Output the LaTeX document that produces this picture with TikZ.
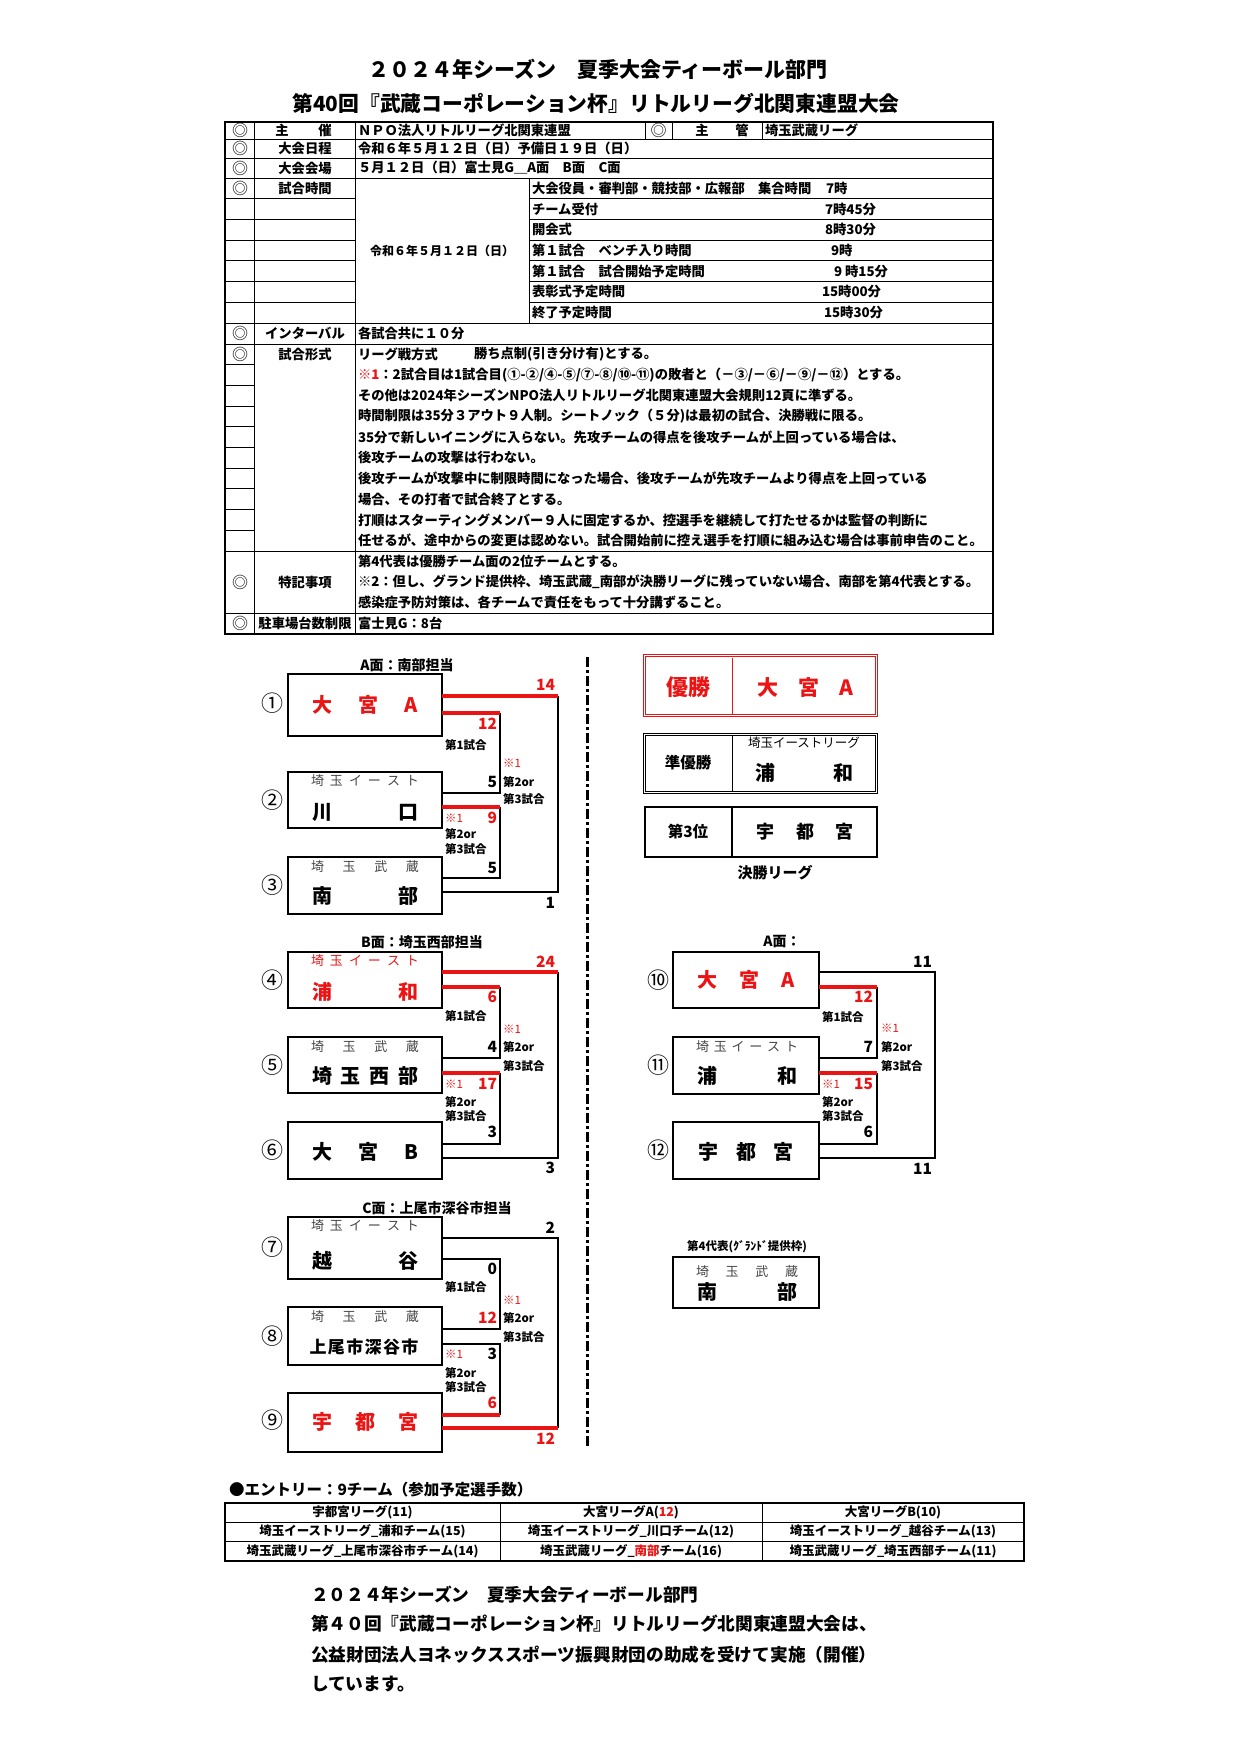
\documentclass[tikz,border=0pt]{standalone}
\usepackage{fontspec}
\setmainfont{Noto Sans CJK JP}
\definecolor{jred}{RGB}{235,20,20}
\definecolor{subg}{RGB}{70,70,70}
\newcommand{\fsz}[1]{\fontsize{#1}{#1}\selectfont}
\newcommand{\sprd}[2]{\makebox[#1][s]{#2}}
\begin{document}
\begin{tikzpicture}[x=1pt,y=-1pt,
  every node/.style={inner sep=0pt,outer sep=0pt},
  cell/.style={font=\fsz{13.3}\bfseries},
  cellw/.style={cell,anchor=west},
  dmk/.style={font=\fsz{16}},
  tgrid/.style={line width=0.9pt,black},
  tframe/.style={line width=1.6pt,black},
  teambox/.style={draw,line width=1.2pt,minimum width=154pt},
  teamboxr/.style={draw,line width=1.2pt,minimum width=146pt},
  win/.style={jred,line width=3.6pt},
  br/.style={line width=1.1pt,black},
  sc/.style={font=\fsz{15.5}\bfseries,anchor=east},
  scr/.style={sc,text=jred},
  lab/.style={font=\fsz{11.5}\bfseries,anchor=west},
  kome/.style={font=\fsz{11.5},text=jred,anchor=west},
  cnum/.style={font=\fsz{22}},
  bigname/.style={font=\fsz{20}\bfseries},
  subt/.style={font=\fsz{13},text=subg},
  head/.style={font=\fsz{14}\bfseries},
  ent/.style={font=\fsz{12.5}\bfseries},
  foot/.style={font=\fsz{17.7}\bfseries,anchor=west}
]
\useasboundingbox (0,0) rectangle (1240,1754);
\fill[white] (0,0) rectangle (1240,1754);

% ---------- titles
\node[font=\fsz{21}\bfseries] (title1) at (598,69) {２０２４年シーズン　夏季大会ティーボール部門};
\node[font=\fsz{20.8}\bfseries] (title2) at (596,103) {第40回『武蔵コーポレーション杯』リトルリーグ北関東連盟大会};

% ---------- table grid
\draw[tgrid] (225,139) -- (993,139);
\draw[tgrid] (225,158) -- (993,158);
\draw[tgrid] (225,178) -- (993,178);
\foreach \yy in {198.7,219.4,240.1,260.8,281.5,302.2} {
  \draw[tgrid] (225,\yy) -- (355,\yy);
  \draw[tgrid] (529,\yy) -- (993,\yy);
}
\draw[tgrid] (225,323) -- (993,323);
\draw[tgrid] (225,344) -- (993,344);
\foreach \yy in {364.7,385.4,406.1,426.8,447.5,468.2,488.9,509.6,530.3}
  \draw[tgrid] (225,\yy) -- (254,\yy);
\draw[tgrid] (225,551) -- (993,551);
\draw[tgrid] (225,613) -- (993,613);
\draw[tgrid] (254,122) -- (254,634);
\draw[tgrid] (355,122) -- (355,634);
\draw[tgrid] (529,178) -- (529,323);
\draw[tgrid] (645,122) -- (645,139);
\draw[tgrid] (672,122) -- (672,139);
\draw[tgrid] (762,122) -- (762,139);
\draw[tframe] (225,122) rectangle (993,634);

% ---------- table texts
\node[dmk] (m1) at (240,130.5) {◎};
\node[cell] (l1a) at (282,130.5) {主};
\node[cell] (l1b) at (325,130.5) {催};
\node[cellw] (v1) at (358,130.5) {ＮＰＯ法人リトルリーグ北関東連盟};
\node[dmk] (m1b) at (658.5,130.5) {◎};
\node[cell] (l1c) at (702,130.5) {主};
\node[cell] (l1d) at (742,130.5) {管};
\node[cellw] (v1b) at (765,130.5) {埼玉武蔵リーグ};

\node[dmk] (m2) at (240,148.5) {◎};
\node[cell] (l2) at (305,148.5) {大会日程};
\node[cellw] (v2) at (358,148.5) {令和６年５月１２日（日）予備日１９日（日）};

\node[dmk] (m3) at (240,168) {◎};
\node[cell] (l3) at (305,168) {大会会場};
\node[cellw] (v3) at (358,168) {５月１２日（日）富士見G＿A面　B面　C面};

\node[dmk] (m4) at (240,188.4) {◎};
\node[cell] (l4) at (305,188.4) {試合時間};
\node[font=\fsz{12}\bfseries] (v4) at (442,250.5) {令和６年５月１２日（日）};

\node[cellw] (s1) at (532,188.4) {大会役員・審判部・競技部・広報部　集合時間};
\node[cellw] (s1t) at (826,188.4) {7時};
\node[cellw] (s2) at (532,209.1) {チーム受付};
\node[cellw] (s2t) at (825,209.1) {7時45分};
\node[cellw] (s3) at (532,229.8) {開会式};
\node[cellw] (s3t) at (825,229.8) {8時30分};
\node[cellw] (s4) at (532,250.5) {第１試合　ベンチ入り時間};
\node[cellw] (s4t) at (831,250.5) {9時};
\node[cellw] (s5) at (532,271.2) {第１試合　試合開始予定時間};
\node[cellw] (s5t) at (834,271.2) {9 時15分};
\node[cellw] (s6) at (532,291.9) {表彰式予定時間};
\node[cellw] (s6t) at (822,291.9) {15時00分};
\node[cellw] (s7) at (532,312.6) {終了予定時間};
\node[cellw] (s7t) at (824,312.6) {15時30分};

\node[dmk] (m5) at (240,333.5) {◎};
\node[cell] (l5) at (305,333.5) {インターバル};
\node[cellw] (v5) at (358,333.5) {各試合共に１０分};

\node[dmk] (m6) at (240,354.4) {◎};
\node[cell] (l6) at (305,354.4) {試合形式};
\node[cellw] (f1) at (358,354.4) {リーグ戦方式};
\node[cellw] (f1b) at (474,354.4) {勝ち点制(引き分け有)とする。};
\node[cellw] (f2) at (358,375.1) {{\color{jred}※1}：2試合目は1試合目(①-②/④-⑤/⑦-⑧/⑩-⑪)の敗者と（－③/－⑥/－⑨/－⑫）とする。};
\node[cellw] (f3) at (358,395.8) {その他は2024年シーズンNPO法人リトルリーグ北関東連盟大会規則12頁に準ずる。};
\node[cellw] (f4) at (358,416.5) {時間制限は35分３アウト９人制。シートノック（５分)は最初の試合、決勝戦に限る。};
\node[cellw] (f5) at (358,437.2) {35分で新しいイニングに入らない。先攻チームの得点を後攻チームが上回っている場合は、};
\node[cellw] (f6) at (358,457.9) {後攻チームの攻撃は行わない。};
\node[cellw] (f7) at (358,478.6) {後攻チームが攻撃中に制限時間になった場合、後攻チームが先攻チームより得点を上回っている};
\node[cellw] (f8) at (358,499.3) {場合、その打者で試合終了とする。};
\node[cellw] (f9) at (358,520) {打順はスターティングメンバー９人に固定するか、控選手を継続して打たせるかは監督の判断に};
\node[cellw] (f10) at (358,540.7) {任せるが、途中からの変更は認めない。試合開始前に控え選手を打順に組み込む場合は事前申告のこと。};

\node[dmk] (m7) at (240,582) {◎};
\node[cell] (l7) at (305,582) {特記事項};
\node[cellw] (k1) at (358,561.3) {第4代表は優勝チーム面の2位チームとする。};
\node[cellw] (k2) at (358,582) {※2：但し、グランド提供枠、埼玉武蔵\_南部が決勝リーグに残っていない場合、南部を第4代表とする。};
\node[cellw] (k3) at (358,602.7) {感染症予防対策は、各チームで責任をもって十分講ずること。};

\node[dmk] (m8) at (240,623.5) {◎};
\node[cell] (l8) at (305,623.5) {駐車場台数制限};
\node[cellw] (v8) at (358,623.5) {富士見G：8台};

% ---------- divider
\coordinate (dv1) at (587,657);
\coordinate (dv2) at (587,1448);
\draw[line width=3pt,dash pattern=on 10pt off 3pt on 3pt off 3pt] (dv1) -- (dv2);

% ---------- bracket A
\node[head] (ha) at (407,665) {A面：南部担当};
\node[teambox,minimum height=62pt] (t1) at (365,705) {};
\node[teambox,minimum height=56pt] (t2) at (365,800) {};
\node[teambox,minimum height=57pt] (t3) at (365,885.5) {};
\node[cnum] (c1) at (272,703) {①};
\node[cnum] (c2) at (272,800) {②};
\node[cnum] (c3) at (272,885) {③};
\node[bigname,text=jred] (n1) at (365,705) {\sprd{106pt}{大\hfil 宮\hfil A}};
\node[subt] (u2) at (365,781) {\sprd{108pt}{埼\hfil 玉\hfil イ\hfil ー\hfil ス\hfil ト}};
\node[bigname] (n2) at (365,812) {\sprd{106pt}{川\hfil 口}};
\node[subt] (u3) at (365,867) {\sprd{108pt}{埼\hfil 玉\hfil 武\hfil 蔵}};
\node[bigname] (n3) at (365,896) {\sprd{106pt}{南\hfil 部}};

\coordinate (a1) at (558,696);
\coordinate (a2) at (500,713);
\coordinate (a3) at (500,793);
\coordinate (a4) at (500,807);
\coordinate (a5) at (500,878);
\coordinate (a6) at (558,892);
\draw[br] (a1) -- (a6) -- (t3.east|-a6);
\draw[br] (a2) -- (a3) -- (t2.east|-a3);
\draw[br] (a4) -- (a5) -- (t3.east|-a5);
\draw[win] (t1.east|-a1) -- (a1);
\draw[win] (t1.east|-a2) -- (a2);
\draw[win] (t2.east|-a4) -- (a4);

\node[scr] (sa1) at (555,685) {14};
\node[scr] (sa2) at (497,724) {12};
\node[lab] (ga1) at (445,745) {第1試合};
\node[sc] (sa3) at (497,782) {5};
\node[kome] (ka1) at (503,763) {※1};
\node[lab] (ga2) at (503,782) {第2or};
\node[lab] (ga3) at (503,799) {第3試合};
\node[kome] (ka2) at (445,818) {※1};
\node[scr] (sa4) at (497,818) {9};
\node[lab] (ga4) at (445,834) {第2or};
\node[lab] (ga5) at (445,849) {第3試合};
\node[sc] (sa5) at (497,868) {5};
\node[sc] (sa6) at (555,903) {1};

% ---------- bracket B
\node[head] (hb) at (422,942) {B面：埼玉西部担当};
\node[teambox,minimum height=56pt] (t4) at (365,980) {};
\node[teambox,minimum height=56pt] (t5) at (365,1065) {};
\node[teambox,minimum height=57pt] (t6) at (365,1150.5) {};
\node[cnum] (c4) at (272,980) {④};
\node[cnum] (c5) at (272,1065) {⑤};
\node[cnum] (c6) at (272,1150) {⑥};
\node[subt,text=jred] (u4) at (365,961) {\sprd{108pt}{埼\hfil 玉\hfil イ\hfil ー\hfil ス\hfil ト}};
\node[bigname,text=jred] (n4) at (365,992) {\sprd{106pt}{浦\hfil 和}};
\node[subt] (u5) at (365,1047) {\sprd{108pt}{埼\hfil 玉\hfil 武\hfil 蔵}};
\node[bigname] (n5) at (365,1076) {\sprd{106pt}{埼\hfil 玉\hfil 西\hfil 部}};
\node[bigname] (n6) at (365,1152) {\sprd{106pt}{大\hfil 宮\hfil B}};

\coordinate (b1) at (558,972);
\coordinate (b2) at (500,987);
\coordinate (b3) at (500,1058);
\coordinate (b4) at (500,1073);
\coordinate (b5) at (500,1144);
\coordinate (b6) at (558,1158);
\draw[br] (b1) -- (b6) -- (t6.east|-b6);
\draw[br] (b2) -- (b3) -- (t5.east|-b3);
\draw[br] (b4) -- (b5) -- (t6.east|-b5);
\draw[win] (t4.east|-b1) -- (b1);
\draw[win] (t4.east|-b2) -- (b2);
\draw[win] (t5.east|-b4) -- (b4);

\node[scr] (sb1) at (555,962) {24};
\node[scr] (sb2) at (497,997) {6};
\node[lab] (gb1) at (445,1016) {第1試合};
\node[sc] (sb3) at (497,1047) {4};
\node[kome] (kb1) at (503,1029) {※1};
\node[lab] (gb2) at (503,1047) {第2or};
\node[lab] (gb3) at (503,1066) {第3試合};
\node[kome] (kb2) at (445,1084) {※1};
\node[scr] (sb4) at (497,1084) {17};
\node[lab] (gb4) at (445,1102) {第2or};
\node[lab] (gb5) at (445,1116) {第3試合};
\node[sc] (sb5) at (497,1132) {3};
\node[sc] (sb6) at (555,1168) {3};

% ---------- bracket C
\node[head] (hc) at (437,1208) {C面：上尾市深谷市担当};
\node[teambox,minimum height=62pt] (t7) at (365,1248) {};
\node[teambox,minimum height=58pt] (t8) at (365,1336) {};
\node[teambox,minimum height=59pt] (t9) at (365,1422.5) {};
\node[cnum] (c7) at (272,1247) {⑦};
\node[cnum] (c8) at (272,1336) {⑧};
\node[cnum] (c9) at (272,1420) {⑨};
\node[subt] (u7) at (365,1226) {\sprd{108pt}{埼\hfil 玉\hfil イ\hfil ー\hfil ス\hfil ト}};
\node[bigname] (n7) at (365,1261) {\sprd{106pt}{越\hfil 谷}};
\node[subt] (u8) at (365,1317) {\sprd{108pt}{埼\hfil 玉\hfil 武\hfil 蔵}};
\node[font=\fsz{17}\bfseries] (n8) at (364,1347) {\sprd{109pt}{上\hfil 尾\hfil 市\hfil 深\hfil 谷\hfil 市}};
\node[bigname,text=jred] (n9) at (365,1422) {\sprd{106pt}{宇\hfil 都\hfil 宮}};

\coordinate (cc1) at (558,1238);
\coordinate (cc2) at (500,1259);
\coordinate (cc3) at (500,1329);
\coordinate (cc4) at (500,1344);
\coordinate (cc5) at (500,1415);
\coordinate (cc6) at (558,1428);
\draw[br] (t7.east|-cc1) -- (cc1) -- (cc6);
\draw[br] (t7.east|-cc2) -- (cc2) -- (cc3) -- (t8.east|-cc3);
\draw[br] (t8.east|-cc4) -- (cc4) -- (cc5);
\draw[win] (t9.east|-cc5) -- (cc5);
\draw[win] (t9.east|-cc6) -- (cc6);

\node[sc] (sc1) at (555,1228) {2};
\node[sc] (sc2) at (497,1269) {0};
\node[lab] (gc1) at (445,1287) {第1試合};
\node[scr] (sc3) at (497,1318) {12};
\node[kome] (kc1) at (503,1300) {※1};
\node[lab] (gc2) at (503,1318) {第2or};
\node[lab] (gc3) at (503,1337) {第3試合};
\node[kome] (kc2) at (445,1354) {※1};
\node[sc] (sc4) at (497,1354) {3};
\node[lab] (gc4) at (445,1373) {第2or};
\node[lab] (gc5) at (445,1387) {第3試合};
\node[scr] (sc5) at (497,1403) {6};
\node[scr] (sc6) at (555,1439) {12};

% ---------- results
\node[draw=jred,double=white,double distance=1.8pt,line width=0.9pt,minimum width=232pt,minimum height=60pt] (r1) at (760.5,685.5) {};
\coordinate (r1t) at (732,657.5);
\coordinate (r1b) at (732,713.5);
\draw[jred,line width=1pt] (r1t) -- (r1b);
\node[font=\fsz{22}\bfseries,text=jred] (r1a) at (688,687) {優勝};
\node[font=\fsz{21}\bfseries,text=jred] (r1n) at (805,687) {\sprd{96pt}{大\hfil 宮\hfil A}};

\node[draw,double=white,double distance=1.5pt,line width=1.2pt,minimum width=232pt,minimum height=58pt] (r2) at (760.5,763.5) {};
\coordinate (r2t) at (732,736);
\coordinate (r2b) at (732,791);
\draw[line width=1pt] (r2t) -- (r2b);
\node[font=\fsz{15.5}\bfseries] (r2a) at (688,763) {準優勝};
\node[font=\fsz{12.5}] (r2s) at (804,743) {埼玉イーストリーグ};
\node[font=\fsz{20}\bfseries] (r2n) at (804,773) {\sprd{98pt}{浦\hfil 和}};

\node[draw,line width=1.5pt,minimum width=232pt,minimum height=50pt] (r3) at (761,832) {};
\coordinate (r3t) at (732,807);
\coordinate (r3b) at (732,857);
\draw[line width=1.2pt] (r3t) -- (r3b);
\node[font=\fsz{15.5}\bfseries] (r3a) at (688,832) {第3位};
\node[font=\fsz{18}\bfseries] (r3n) at (805,832) {\sprd{97pt}{宇\hfil 都\hfil 宮}};
\node[font=\fsz{15}\bfseries] (fl) at (775,873) {決勝リーグ};

% ---------- final league bracket
\node[head] (hd) at (782,942) {A面：};
\node[teamboxr,minimum height=56pt] (t10) at (746,980) {};
\node[teamboxr,minimum height=57pt] (t11) at (746,1065.5) {};
\node[teamboxr,minimum height=57pt] (t12) at (746,1150.5) {};
\node[cnum] (c10) at (658,980) {⑩};
\node[cnum] (c11) at (658,1065) {⑪};
\node[cnum] (c12) at (658,1150) {⑫};
\node[bigname,text=jred] (n10) at (746,980) {\sprd{97pt}{大\hfil 宮\hfil A}};
\node[subt] (u11) at (747,1047) {\sprd{102pt}{埼\hfil 玉\hfil イ\hfil ー\hfil ス\hfil ト}};
\node[bigname] (n11) at (747,1076) {\sprd{100pt}{浦\hfil 和}};
\node[bigname] (n12) at (746,1152) {\sprd{95pt}{宇\hfil 都\hfil 宮}};

\coordinate (d1) at (935,972);
\coordinate (d2) at (877,987);
\coordinate (d3) at (877,1058);
\coordinate (d4) at (877,1073);
\coordinate (d5) at (877,1144);
\coordinate (d6) at (935,1158);
\draw[br] (t10.east|-d1) -- (d1) -- (d6) -- (t12.east|-d6);
\draw[br] (d2) -- (d3) -- (t11.east|-d3);
\draw[br] (d4) -- (d5) -- (t12.east|-d5);
\draw[win] (t10.east|-d2) -- (d2);
\draw[win] (t11.east|-d4) -- (d4);

\node[sc] (sd1) at (932,962) {11};
\node[scr] (sd2) at (873,997) {12};
\node[lab] (gd1) at (822,1017) {第1試合};
\node[sc] (sd3) at (873,1047) {7};
\node[kome] (kd1) at (881,1028) {※1};
\node[lab] (gd2) at (881,1047) {第2or};
\node[lab] (gd3) at (881,1066) {第3試合};
\node[kome] (kd2) at (822,1084) {※1};
\node[scr] (sd4) at (873,1084) {15};
\node[lab] (gd4) at (822,1102) {第2or};
\node[lab] (gd5) at (822,1116) {第3試合};
\node[sc] (sd5) at (873,1132) {6};
\node[sc] (sd6) at (932,1169) {11};

% ---------- 4th representative
\node[font=\fsz{11.5}\bfseries] (h4) at (747,1247) {第4代表(ｸﾞﾗﾝﾄﾞ提供枠)};
\node[teamboxr,minimum height=51pt] (t13) at (746,1282.5) {};
\node[subt] (u13) at (747,1272) {\sprd{102pt}{埼\hfil 玉\hfil 武\hfil 蔵}};
\node[bigname] (n13) at (747,1292) {\sprd{100pt}{南\hfil 部}};

% ---------- entry
\node[font=\fsz{15.5}\bfseries,anchor=west] (eh) at (229,1490) {●エントリー：9チーム（参加予定選手数）};
\draw[tgrid] (225,1522) -- (1024,1522);
\draw[tgrid] (225,1541) -- (1024,1541);
\draw[tgrid] (500,1503) -- (500,1561);
\draw[tgrid] (762,1503) -- (762,1561);
\draw[tframe] (225,1503) rectangle (1024,1561);
\node[ent] (e11) at (362.5,1512.5) {宇都宮リーグ(11)};
\node[ent] (e12) at (631,1512.5) {大宮リーグA({\color{jred}12})};
\node[ent] (e13) at (893,1512.5) {大宮リーグB(10)};
\node[ent] (e21) at (362.5,1531.5) {埼玉イーストリーグ\_浦和チーム(15)};
\node[ent] (e22) at (631,1531.5) {埼玉イーストリーグ\_川口チーム(12)};
\node[ent] (e23) at (893,1531.5) {埼玉イーストリーグ\_越谷チーム(13)};
\node[ent] (e31) at (362.5,1551) {埼玉武蔵リーグ\_上尾市深谷市チーム(14)};
\node[ent] (e32) at (631,1551) {埼玉武蔵リーグ\_{\color{jred}南部}チーム(16)};
\node[ent] (e33) at (893,1551) {埼玉武蔵リーグ\_埼玉西部チーム(11)};

% ---------- footer
\node[foot] (p1) at (311,1595) {２０２４年シーズン　夏季大会ティーボール部門};
\node[foot] (p2) at (311,1624) {第４０回『武蔵コーポレーション杯』リトルリーグ北関東連盟大会は、};
\node[foot] (p3) at (311,1655) {公益財団法人ヨネックススポーツ振興財団の助成を受けて実施（開催）};
\node[foot] (p4) at (311,1684) {しています。};
\end{tikzpicture}
\end{document}
